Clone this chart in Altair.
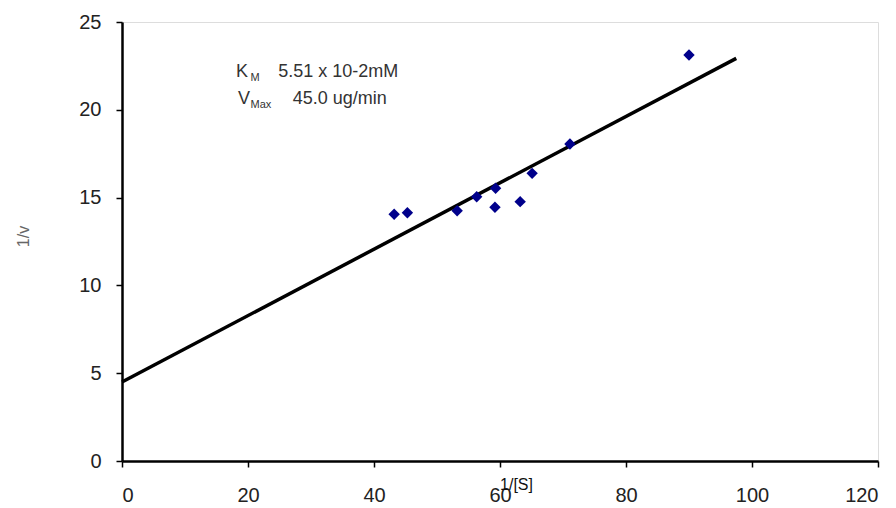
import altair as alt
import pandas as pd

# Data
inv_s = [43.2, 45.3, 53.2, 56.3, 59.3, 59.2, 63.2, 65.1, 71.1, 90.0]
inv_v = [14.05, 14.14, 14.25, 15.05, 15.53, 14.45, 14.77, 16.38, 18.05, 23.12]

fit_x = [0.0, 97.5]
fit_y = [4.5, 22.93]

x_ticks = [0, 20, 40, 60, 80, 100, 120]
y_ticks = [0, 5, 10, 15, 20, 25]

# annotation pieces (text, x, y in data units, font size)
ann_text = ["K", "M", "5.51 x 10-2mM", "V", "Max", "45.0 ug/min"]
ann_x = [18.1, 20.4, 24.8, 18.4, 20.4, 27.1]
ann_y = [21.87, 21.66, 21.87, 20.33, 20.12, 20.33]
ann_size = [18, 11, 18, 18, 11, 18]

pts = pd.DataFrame({"x": inv_s, "y": inv_v})
fit = pd.DataFrame({"x": fit_x, "y": fit_y})
ann = pd.DataFrame({"t": ann_text, "x": ann_x, "y": ann_y, "s": ann_size})

xs = alt.Scale(domain=[0, 120], nice=False)
ys = alt.Scale(domain=[0, 25], nice=False)

xax = alt.Axis(values=x_ticks, grid=False, title="1/[S]", titleX=394, titleY=23,
               titleBaseline="middle", titleFontSize=16, titleFontWeight="normal",
               titleColor="#111", labelFontSize=20, labelPadding=28, labelBaseline="middle",
               labelColor="#222", tickSize=6, tickColor="#000", tickWidth=1.5,
               domainColor="#000", domainWidth=2.5, labelFont="Liberation Sans",
               titleFont="Liberation Sans")
yax = alt.Axis(values=y_ticks, grid=False, title="1/v", titleX=-99, titleY=214,
               titleBaseline="middle", titleAngle=-90, titleFontSize=16,
               titleFontWeight="normal", titleColor="#666", labelFontSize=20,
               labelPadding=15, labelColor="#222", tickSize=6, tickColor="#000",
               tickWidth=1.5, domainColor="#000", domainWidth=2.5,
               labelFont="Liberation Sans", titleFont="Liberation Sans")

line = alt.Chart(fit).mark_line(color="#000", strokeWidth=3.5).encode(
    x=alt.X("x:Q", scale=xs, axis=xax),
    y=alt.Y("y:Q", scale=ys, axis=yax),
)

points = alt.Chart(pts).mark_point(shape="diamond", filled=True, color="#00008B",
                                   size=130, opacity=1).encode(
    x=alt.X("x:Q", scale=xs),
    y=alt.Y("y:Q", scale=ys),
)

text = alt.Chart(ann).mark_text(align="left", baseline="alphabetic", color="#333",
                                font="Liberation Sans").encode(
    x=alt.X("x:Q", scale=xs),
    y=alt.Y("y:Q", scale=ys),
    text="t:N",
    size=alt.Size("s:Q", scale=None, legend=None),
)

chart = alt.layer(line, points, text).properties(
    width=756, height=439,
    autosize=alt.AutoSizeParams(type="none"),
    padding={"left": 114, "top": 14, "right": 10, "bottom": 44},
).configure_view(stroke="#888", strokeWidth=2).configure(background="white")

chart.save("out.html", embed_options={"renderer": "svg", "actions": False})
